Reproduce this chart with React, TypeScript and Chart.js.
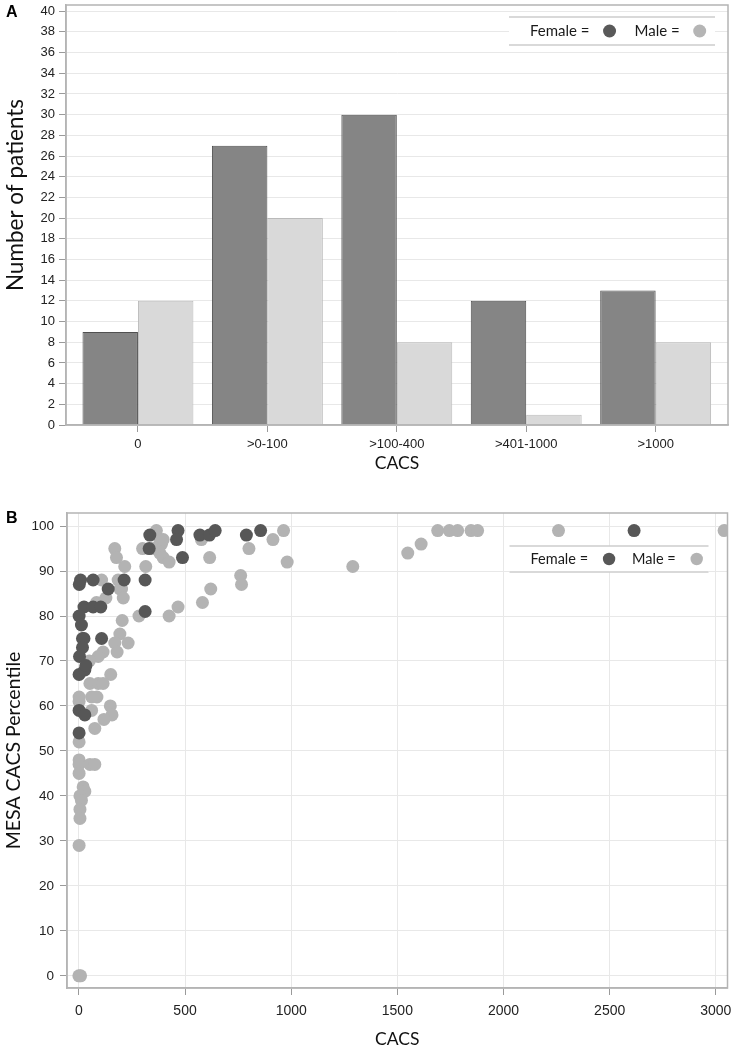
import React, { useEffect, useRef } from "react";
import { Chart, registerables } from "chart.js";

Chart.register(...registerables);

// ---------- Panel A data ----------
const categories = ["0", ">0-100", ">100-400", ">401-1000", ">1000"];
const femaleCounts = [9, 27, 30, 12, 13];
const maleCounts = [12, 20, 8, 1, 8];
const countTicks = [0, 2, 4, 6, 8, 10, 12, 14, 16, 18, 20, 22, 24, 26, 28, 30, 32, 34, 36, 38, 40];

// ---------- Panel B data ----------
const femaleCacs = [2, 8, 67, 138, 213, 312, 24, 67, 103, 1, 12, 312, 17, 24, 107, 17, 3, 1, 28, 33, 1, 28, 1, 334, 331, 467, 460, 488, 570, 615, 642, 789, 856, 2615];
const femalePct = [87, 88, 88, 86, 88, 88, 82, 82, 82, 80, 78, 81, 75, 75, 75, 73, 71, 67, 68, 69, 59, 58, 54, 98, 95, 99, 97, 93, 98, 98, 99, 98, 99, 99];

const maleCacs = [365, 381, 389, 397, 169, 177, 216, 300, 315, 381, 397, 425, 350, 577, 616, 762, 766, 621, 582, 467, 425, 283,
  107, 185, 193, 201, 209, 127, 83, 204, 193, 169, 180, 232, 114, 91, 49,
  801, 914, 964, 981, 1290, 1549, 1612, 1690, 1745, 1784, 1847, 1878, 2259, 3039,
  150, 52, 91, 114, 1, 1, 60, 85, 60, 148, 156, 118, 75, 1,
  1, 1, 1, 52, 75, 20, 28, 5, 12, 5, 5, 1, 0, 8];
const malePct = [99, 97, 96, 97, 95, 93, 91, 95, 91, 94, 93, 92, 95, 97, 93, 89, 87, 86, 83, 82, 80, 80,
  88, 88, 86, 86, 84, 84, 83, 79, 76, 74, 72, 74, 72, 71, 70,
  95, 97, 99, 92, 91, 94, 96, 99, 99, 99, 99, 99, 99, 99,
  67, 65, 65, 65, 62, 61, 62, 62, 59, 60, 58, 57, 55, 52,
  48, 47, 45, 47, 47, 42, 41, 40, 39, 37, 35, 29, 0, 0];

const cacsTicks = [0, 500, 1000, 1500, 2000, 2500, 3000];
const pctTicks = [0, 10, 20, 30, 40, 50, 60, 70, 80, 90, 100];

// ---------- styling ----------
const TICK_FAMILY = "'Liberation Sans', Arial, sans-serif";
const TITLE_FAMILY = "Lato, 'Open Sans', sans-serif";
const FRAME = "#b4b4b4";
const TICK_COLOR = "#9a9a9a";
const GRID = "#e8e8e8";

type DecorCfg = {
  letter: string;
  letterX: number;
  letterY: number;
  letterSize: number;
  rightInset: number;
  width: number;
  topOffset: number;
  height: number;
  padLeft: number;
  gapDot: number;
  gapNext: number;
  fontSize: number;
  radius: number;
  colors: string[];
  yTitle?: { text: string; x: number; y: number; size: number };
};

function makeDecor(cfg: DecorCfg) {
  return {
    id: "decor",
    afterDatasetsDraw(chart: any) {
      const { ctx, chartArea } = chart;
      ctx.save();
      // frame around plot area
      ctx.strokeStyle = FRAME;
      ctx.lineWidth = 1.5;
      ctx.strokeRect(chartArea.left, chartArea.top, chartArea.right - chartArea.left, chartArea.bottom - chartArea.top);

      // legend
      const right = chartArea.right - cfg.rightInset;
      const left = right - cfg.width;
      const top = chartArea.top + cfg.topOffset;
      const bottom = top + cfg.height;
      ctx.fillStyle = "#ffffff";
      ctx.fillRect(left, top, cfg.width, cfg.height);
      ctx.strokeStyle = "#cdcdcd";
      ctx.lineWidth = 1.5;
      ctx.beginPath();
      ctx.moveTo(left, top);
      ctx.lineTo(right, top);
      ctx.moveTo(left, bottom);
      ctx.lineTo(right, bottom);
      ctx.stroke();

      ctx.font = `${cfg.fontSize}px ${TITLE_FAMILY}`;
      ctx.textBaseline = "middle";
      ctx.textAlign = "left";
      const cy = (top + bottom) / 2;
      let x = left + cfg.padLeft;
      chart.data.datasets.forEach((ds: any, i: number) => {
        const label = `${ds.label} =`;
        ctx.fillStyle = "#1a1a1a";
        ctx.fillText(label, x, cy);
        x += ctx.measureText(label).width + cfg.gapDot;
        ctx.fillStyle = cfg.colors[i];
        ctx.beginPath();
        ctx.arc(x, cy, cfg.radius, 0, Math.PI * 2);
        ctx.fill();
        x += cfg.gapNext;
      });

      // y-axis title (rotated)
      if (cfg.yTitle) {
        ctx.save();
        ctx.translate(cfg.yTitle.x, cfg.yTitle.y);
        ctx.rotate(-Math.PI / 2);
        ctx.font = `${cfg.yTitle.size}px ${TITLE_FAMILY}`;
        ctx.fillStyle = "#111";
        ctx.textAlign = "center";
        ctx.textBaseline = "middle";
        ctx.fillText(cfg.yTitle.text, 0, 0);
        ctx.restore();
      }

      // panel letter
      ctx.fillStyle = "#000";
      ctx.font = `bold ${cfg.letterSize}px ${TICK_FAMILY}`;
      ctx.textBaseline = "middle";
      ctx.textAlign = "left";
      ctx.fillText(cfg.letter, cfg.letterX, cfg.letterY);
      ctx.restore();
    },
  };
}

export default function App() {
  const barRef = useRef<HTMLCanvasElement>(null);
  const scatRef = useRef<HTMLCanvasElement>(null);

  useEffect(() => {
    document.body.style.margin = "0";
    const tickFontA = { family: TICK_FAMILY, size: 13 };
    const tickFontBx = { family: TICK_FAMILY, size: 14 };
    const tickFontBy = { family: TICK_FAMILY, size: 13.5 };
    const xTitleFont = { family: TITLE_FAMILY, size: 17.5, lineHeight: 1.2 };

    const bar = new Chart(barRef.current as HTMLCanvasElement, {
      type: "bar",
      data: {
        datasets: [
          { label: "Female", data: femaleCounts.map((y, i) => ({ x: i, y })), backgroundColor: "#858585", borderColor: "#505050", borderWidth: 1, categoryPercentage: 0.857, barPercentage: 1 },
          { label: "Male", data: maleCounts.map((y, i) => ({ x: i, y })), backgroundColor: "#d9d9d9", borderColor: "#bababa", borderWidth: 1, categoryPercentage: 0.857, barPercentage: 1 },
        ],
      },
      options: {
        responsive: false,
        animation: false,
        events: [],
        layout: { padding: { top: 5, right: 6, left: 0, bottom: 0 } },
        plugins: { legend: { display: false }, tooltip: { enabled: false } },
        scales: {
          x: {
            type: "linear",
            offset: false,
            min: -0.556,
            max: categories.length - 1 + 0.559,
            afterBuildTicks: (s: any) => { s.ticks = categories.map((_, i) => ({ value: i })); },
            grid: { drawOnChartArea: false, offset: false, tickLength: 7, tickColor: TICK_COLOR },
            border: { color: FRAME, width: 1.5 },
            ticks: { font: tickFontA, color: "#222", padding: 5, callback: (v: any) => categories[v] },
            title: { display: true, text: "CACS", font: xTitleFont, color: "#111", padding: { top: 0, bottom: 6 } },
            afterFit: (s: any) => { s.height = 55; s.paddingLeft = 0; s.paddingRight = 0; },
          },
          y: {
            min: 0,
            max: 40.6,
            afterBuildTicks: (s: any) => { s.ticks = countTicks.map((v) => ({ value: v })); },
            grid: { color: GRID, tickLength: 7, tickColor: TICK_COLOR },
            border: { color: FRAME, width: 1.5 },
            ticks: { font: tickFontA, color: "#222", padding: 4 },
            afterFit: (s: any) => { s.width = 66; s.paddingTop = 0; s.paddingBottom = 0; },
          },
        },
      },
      plugins: [makeDecor({
        letter: "A", letterX: 6, letterY: 13, letterSize: 16,
        rightInset: 13, width: 206, topOffset: 12, height: 28, padLeft: 21,
        gapDot: 20, gapNext: 25, fontSize: 15, radius: 6.5, colors: ["#595959", "#b5b5b5"],
        yTitle: { text: "Number of patients", x: 16, y: 195, size: 22.5 },
      })],
    } as any);

    const sc = new Chart(scatRef.current as HTMLCanvasElement, {
      type: "scatter",
      data: {
        datasets: [
          { label: "Female", data: femaleCacs.map((x, i) => ({ x, y: femalePct[i] })), backgroundColor: "#575757", borderWidth: 0, pointRadius: 6.5 },
          { label: "Male", data: maleCacs.map((x, i) => ({ x, y: malePct[i] })), backgroundColor: "#b3b3b3", borderWidth: 0, pointRadius: 6.5 },
        ],
      },
      options: {
        responsive: false,
        animation: false,
        events: [],
        layout: { padding: { top: 33, right: 6, left: 0, bottom: 0 } },
        plugins: { legend: { display: false }, tooltip: { enabled: false } },
        scales: {
          x: {
            type: "linear",
            min: -56,
            max: 3055,
            afterBuildTicks: (s: any) => { s.ticks = cacsTicks.map((v) => ({ value: v })); },
            grid: { color: GRID, tickLength: 7, tickColor: TICK_COLOR },
            border: { color: FRAME, width: 1.5 },
            ticks: { font: tickFontBx, color: "#222", padding: 8, callback: (v: any) => String(v) },
            title: { display: true, text: "CACS", font: { family: TITLE_FAMILY, size: 17.5, lineHeight: 1.1 }, color: "#111", padding: { top: 0, bottom: 1 } },
            afterFit: (s: any) => { s.height = 62; s.paddingLeft = 0; s.paddingRight = 0; },
          },
          y: {
            type: "linear",
            min: -2.7,
            max: 102.9,
            afterBuildTicks: (s: any) => { s.ticks = pctTicks.map((v) => ({ value: v })); },
            grid: { color: GRID, tickLength: 7, tickColor: TICK_COLOR },
            border: { color: FRAME, width: 1.5 },
            ticks: { font: tickFontBy, color: "#222", padding: 6, callback: (v: any) => String(v) },
            title: { display: true, text: "MESA CACS Percentile", font: { family: TITLE_FAMILY, size: 19.5, lineHeight: 1.2 }, color: "#111", padding: { top: 2, bottom: 0 } },
            afterFit: (s: any) => { s.width = 67; s.paddingTop = 0; s.paddingBottom = 0; },
          },
        },
      },
      plugins: [makeDecor({
        letter: "B", letterX: 6, letterY: 39, letterSize: 16,
        rightInset: 19, width: 199, topOffset: 33, height: 26, padLeft: 21,
        gapDot: 21, gapNext: 23, fontSize: 14.5, radius: 6.2, colors: ["#575757", "#b3b3b3"],
      })],
    } as any);

    return () => {
      bar.destroy();
      sc.destroy();
    };
  }, []);

  return (
    <div style={{ position: "relative", width: 734, height: 1050, background: "#fff" }}>
      <canvas ref={barRef} width={734} height={480} style={{ position: "absolute", left: 0, top: 0, width: 734, height: 480 }} />
      <canvas ref={scatRef} width={734} height={570} style={{ position: "absolute", left: 0, top: 480, width: 734, height: 570 }} />
    </div>
  );
}
